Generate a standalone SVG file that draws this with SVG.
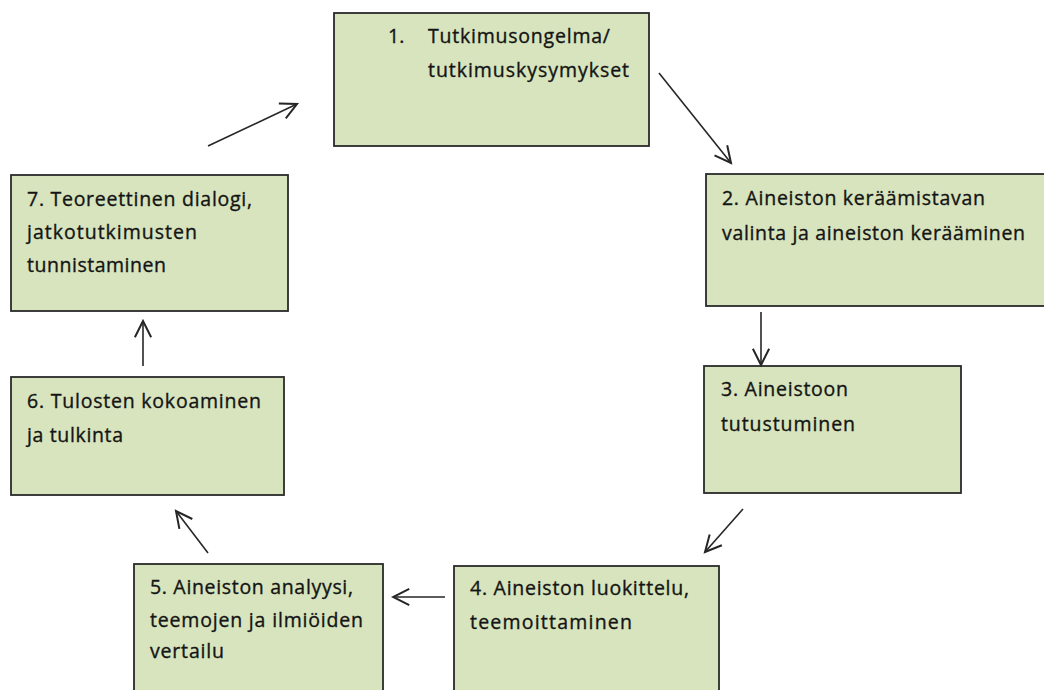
<svg xmlns="http://www.w3.org/2000/svg" width="1044" height="690" viewBox="0 0 1044 690">
<defs>
<style>
.box{fill:#d7e4bd;stroke:#2a2a2a;stroke-width:1.8}
.t{font-family:"Open Sans","Liberation Sans",sans-serif;font-size:19.5px;fill:#141414;stroke:#141414;stroke-width:0.35}
.c{stroke:#262626;stroke-width:1.6;fill:none;marker-end:url(#ah)}
</style>
<marker id="ah" markerUnits="userSpaceOnUse" markerWidth="20" markerHeight="20" viewBox="-14 -8 16 16" refX="0" refY="0" orient="auto">
<path d="M-13,-6.5 L0,0 L-13,6.5" fill="none" stroke="#262626" stroke-width="1.6"/>
</marker>
</defs>
<rect width="1044" height="690" fill="#ffffff"/>
<g id="n1">
<rect class="box" x="334" y="13" width="315" height="133"/>
<text class="t" x="388" y="43">1.</text>
<text class="t" x="428" y="43" textLength="182" lengthAdjust="spacing">Tutkimusongelma/</text>
<text class="t" x="428" y="77" textLength="201" lengthAdjust="spacing">tutkimuskysymykset</text>
</g>
<g id="n2">
<rect class="box" x="706" y="174" width="342" height="132"/>
<text class="t" x="722" y="205" textLength="263" lengthAdjust="spacing">2. Aineiston keräämistavan</text>
<text class="t" x="722" y="240" textLength="303" lengthAdjust="spacing">valinta ja aineiston kerääminen</text>
</g>
<g id="n3">
<rect class="box" x="704" y="366" width="257" height="127"/>
<text class="t" x="721" y="396" textLength="127" lengthAdjust="spacing">3. Aineistoon</text>
<text class="t" x="721" y="431" textLength="134" lengthAdjust="spacing">tutustuminen</text>
</g>
<g id="n4">
<rect class="box" x="454" y="566" width="265" height="130"/>
<text class="t" x="470" y="595" textLength="219" lengthAdjust="spacing">4. Aineiston luokittelu,</text>
<text class="t" x="470" y="629" textLength="162" lengthAdjust="spacing">teemoittaminen</text>
</g>
<g id="n5">
<rect class="box" x="134" y="564" width="249" height="132"/>
<text class="t" x="150" y="594" textLength="203" lengthAdjust="spacing">5. Aineiston analyysi,</text>
<text class="t" x="150" y="627" textLength="213" lengthAdjust="spacing">teemojen ja ilmiöiden</text>
<text class="t" x="150" y="658" textLength="74" lengthAdjust="spacing">vertailu</text>
</g>
<g id="n6">
<rect class="box" x="11" y="377" width="273" height="118"/>
<text class="t" x="27" y="408" textLength="234" lengthAdjust="spacing">6. Tulosten kokoaminen</text>
<text class="t" x="27" y="442" textLength="96" lengthAdjust="spacing">ja tulkinta</text>
</g>
<g id="n7">
<rect class="box" x="11" y="175" width="277" height="136"/>
<text class="t" x="27" y="206" textLength="225" lengthAdjust="spacing">7. Teoreettinen dialogi,</text>
<text class="t" x="27" y="239" textLength="170" lengthAdjust="spacing">jatkotutkimusten</text>
<text class="t" x="27" y="272" textLength="139" lengthAdjust="spacing">tunnistaminen</text>
</g>
<g id="connectors">
<line class="c" x1="659" y1="73" x2="731" y2="163"/>
<line class="c" x1="761" y1="312" x2="761" y2="365"/>
<line class="c" x1="743" y1="509" x2="705" y2="552"/>
<line class="c" x1="445" y1="597" x2="393" y2="597"/>
<line class="c" x1="208" y1="553" x2="176" y2="511"/>
<line class="c" x1="143" y1="366" x2="143" y2="321"/>
<line class="c" x1="208" y1="146" x2="297" y2="104"/>
</g>
</svg>
